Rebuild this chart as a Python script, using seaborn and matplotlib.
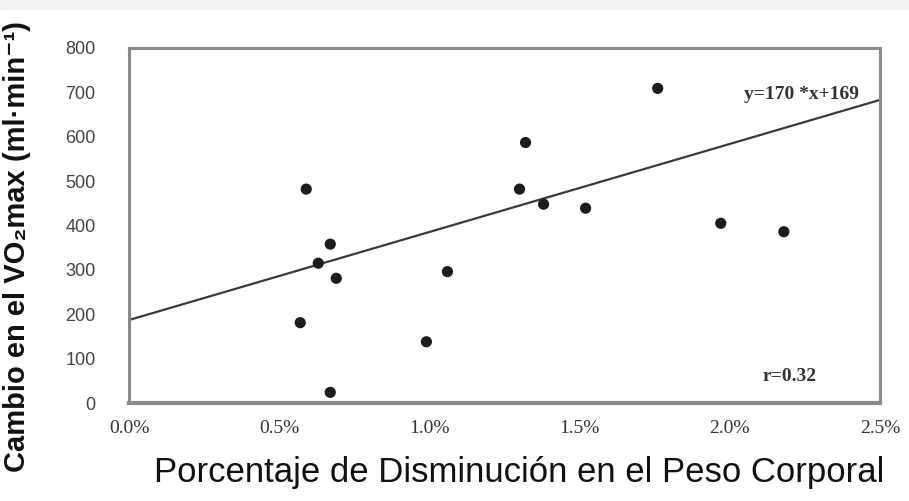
import matplotlib
matplotlib.use("Agg")
import matplotlib.pyplot as plt
import matplotlib.patches as mpatches
from matplotlib.ticker import FuncFormatter
import numpy as np
import pandas as pd
import seaborn as sns

# % body weight loss vs change in VO2max (ml/min)
peso_pct = [0.59, 0.67, 0.63, 0.69, 0.57, 0.67, 0.99, 1.06, 1.30, 1.38, 1.76, 1.32, 1.52, 1.97, 2.18]
vo2_cambio = [482, 358, 315, 281, 181, 24, 138, 296, 482, 448, 709, 587, 439, 405, 386]

# trend line end points
linea_x = [0.0, 2.5]
linea_y = [187, 683]

y_ticks = [0, 100, 200, 300, 400, 500, 600, 700, 800]
x_ticks = [0.0, 0.5, 1.0, 1.5, 2.0, 2.5]

sns.set_style("white")
plt.rcParams["font.family"] = ["Liberation Sans", "DejaVu Sans"]

df = pd.DataFrame({"peso": peso_pct, "vo2": vo2_cambio})
df_linea = pd.DataFrame({"x": linea_x, "y": linea_y})

fig = plt.figure(figsize=(9.09, 5.01), dpi=100)
fig.patches.append(mpatches.Rectangle((0, 1 - 9 / 501), 1, 9 / 501, transform=fig.transFigure,
                                      color="#f2f2f2", zorder=0))
ax = fig.add_axes([129 / 909, 1 - 403 / 501, (880 - 129) / 909, (403 - 48) / 501])

sns.lineplot(data=df_linea, x="x", y="y", color="#3a3a3a", linewidth=1.6, ax=ax)
sns.scatterplot(data=df, x="peso", y="vo2", color="#1c1c1c", s=65, edgecolor="none", ax=ax, zorder=3)

ax.set_xlim(0, 2.5)
ax.set_ylim(0, 800)
ax.set_xticks(x_ticks)
ax.set_yticks(y_ticks)
ax.xaxis.set_major_formatter(FuncFormatter(lambda v, p: f"{v:.1f}%"))

for s in ax.spines.values():
    s.set_color("#8a8a8a")
    s.set_linewidth(2.2)
ax.spines["bottom"].set_linewidth(3)

ax.tick_params(axis="x", direction="out", length=8, width=2, color="#6a6a6a", pad=4,
               labelsize=14, labelcolor="#333333")
ax.tick_params(axis="y", length=0, pad=24, labelsize=13, labelcolor="#444444")
for lab in ax.get_xticklabels():
    lab.set_family("Liberation Serif")
for lab in ax.get_yticklabels():
    lab.set_fontstretch("condensed")

ax.set_xlabel("Porcentaje de Disminución en el Peso Corporal", fontsize=25, color="#111111")
ax.xaxis.set_label_coords(0.519, -0.15)
ax.set_ylabel("Cambio en el VO₂max (ml·min⁻¹)", fontsize=21,
              fontweight="bold", color="#111111")
ax.yaxis.set_label_coords(-0.13, 0.44)

ax.text(0.895, 0.87, "y=170 *x+169", transform=ax.transAxes, ha="center", va="center",
        fontsize=14, family="Liberation Serif", fontweight="bold", color="#333333")
ax.text(0.88, 0.076, "r=0.32", transform=ax.transAxes, ha="center", va="center",
        fontsize=14, family="Liberation Serif", fontweight="bold", color="#333333")

fig.savefig("out.png", dpi=100)
